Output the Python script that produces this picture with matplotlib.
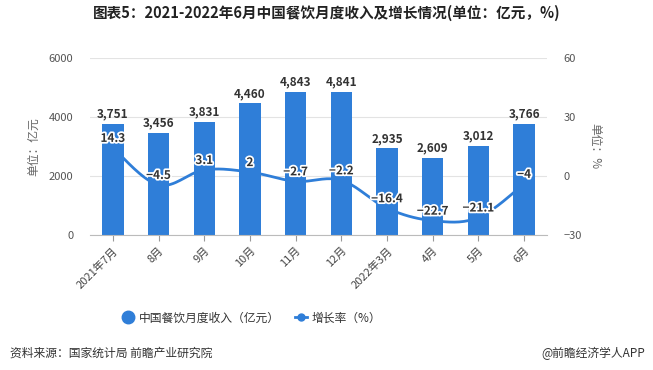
import numpy as np
import matplotlib.pyplot as plt
import matplotlib.patheffects as pe
from matplotlib.lines import Line2D

plt.rcParams['font.family'] = ['Noto Sans CJK SC', 'DejaVu Sans']

months = ["2021年7月", "8月", "9月", "10月", "11月", "12月",
          "2022年3月", "4月", "5月", "6月"]
revenue = [3751, 3456, 3831, 4460, 4843, 4841, 2935, 2609, 3012, 3766]
growth = [14.3, -4.5, 3.1, 2, -2.7, -2.2, -16.4, -22.7, -21.1, -4]

BLUE = "#2f7ed8"
GRID = "#e3e3e3"
TXT = "#333333"


def smooth(x, y, n=20):
    # cubic bezier through points, echarts-like softness
    x = np.asarray(x, float)
    y = np.asarray(y, float)
    xs, ys = [], []
    k = 0.35
    for i in range(len(x) - 1):
        p0 = np.array([x[i - 1], y[i - 1]]) if i > 0 else np.array([x[i], y[i]])
        p1 = np.array([x[i], y[i]])
        p2 = np.array([x[i + 1], y[i + 1]])
        p3 = np.array([x[i + 2], y[i + 2]]) if i + 2 < len(x) else p2
        c1 = p1 + (p2 - p0) * k / 2
        c2 = p2 - (p3 - p1) * k / 2
        t = np.linspace(0, 1, n)[:, None]
        pts = ((1 - t) ** 3) * p1 + 3 * ((1 - t) ** 2) * t * c1 + 3 * (1 - t) * t ** 2 * c2 + t ** 3 * p2
        xs.extend(pts[:, 0])
        ys.extend(pts[:, 1])
    return xs, ys


fig = plt.figure(figsize=(6.53, 3.70), dpi=100)
ax = fig.add_axes([90 / 653, 1 - 235 / 370, (547 - 90) / 653, (235 - 58) / 370])
ax2 = ax.twinx()

x = np.arange(len(months))
ax.bar(x, revenue, width=0.47, color=BLUE, zorder=2)
ax.set_ylim(0, 6000)
ax.set_yticks([0, 2000, 4000, 6000])
ax.set_xlim(-0.5, len(months) - 0.5)
ax.grid(axis='y', color=GRID, lw=0.8, zorder=0)
ax.set_axisbelow(True)
for s in ['top', 'left', 'right']:
    ax.spines[s].set_visible(False)
ax.spines['bottom'].set_color('#bbbbbb')
ax.tick_params(axis='y', length=0, labelsize=8, colors='#555555', pad=12)
ax.tick_params(axis='x', length=4, color='#999999', labelsize=8, colors='#444444')
ax.set_xticks(x)
ax.set_xticklabels(months, rotation=45, ha='right', rotation_mode='anchor')
ax.set_ylabel("单位：亿元", fontsize=8.5, color='#666666', labelpad=6)

for xi, v in zip(x, revenue):
    ax.text(xi, v + 120, f"{v:,}", ha='center', va='bottom', fontsize=8.5,
            fontweight='bold', color=TXT, zorder=5)

ax2.set_ylim(-30, 60)
ax2.set_yticks([-30, 0, 30, 60])
for s in ['top', 'left', 'right', 'bottom']:
    ax2.spines[s].set_visible(False)
ax2.tick_params(axis='y', length=0, labelsize=8, colors='#555555', pad=12)
sx, sy = smooth(x, growth)
ax2.plot(sx, sy, color=BLUE, lw=2, zorder=3)
ax2.plot(x, growth, 'o', color=BLUE, ms=5, zorder=4)
ax2.set_ylabel("单位：%", fontsize=8.5, color='#666666', rotation=-90, labelpad=14)

outline = [pe.withStroke(linewidth=2.5, foreground='white')]
for xi, v in zip(x, growth):
    t = ax2.text(xi, v + 1.5, f"{v:g}".replace('-', '−'), ha='center', va='bottom',
                 fontsize=8.5, fontweight='bold', color=TXT, zorder=6)
    t.set_path_effects(outline)

fig.text(0.5, 1 - 13 / 370, "图表5：2021-2022年6月中国餐饮月度收入及增长情况(单位：亿元，%)",
         ha='center', va='center', fontsize=10.5, fontweight='bold', color='#222222')

handles = [Line2D([], [], ls='none', marker='o', color=BLUE, ms=9),
           Line2D([], [], color=BLUE, lw=2, marker='o', ms=5)]
fig.legend(handles, ["中国餐饮月度收入（亿元）", "增长率（%）"], loc='center',
           bbox_to_anchor=(252 / 653, 1 - 318 / 370), ncol=2, frameon=False, fontsize=8.5,
           handlelength=1.0, handletextpad=0.4, columnspacing=1.3, labelcolor='#333333')

fig.text(10 / 653, 1 - 353 / 370, "资料来源：国家统计局 前瞻产业研究院", ha='left', va='center',
         fontsize=8.5, color='#333333')
fig.text(645 / 653, 1 - 353 / 370, "@前瞻经济学人APP", ha='right', va='center',
         fontsize=8.5, color='#333333')

fig.savefig("out.png", dpi=100)
